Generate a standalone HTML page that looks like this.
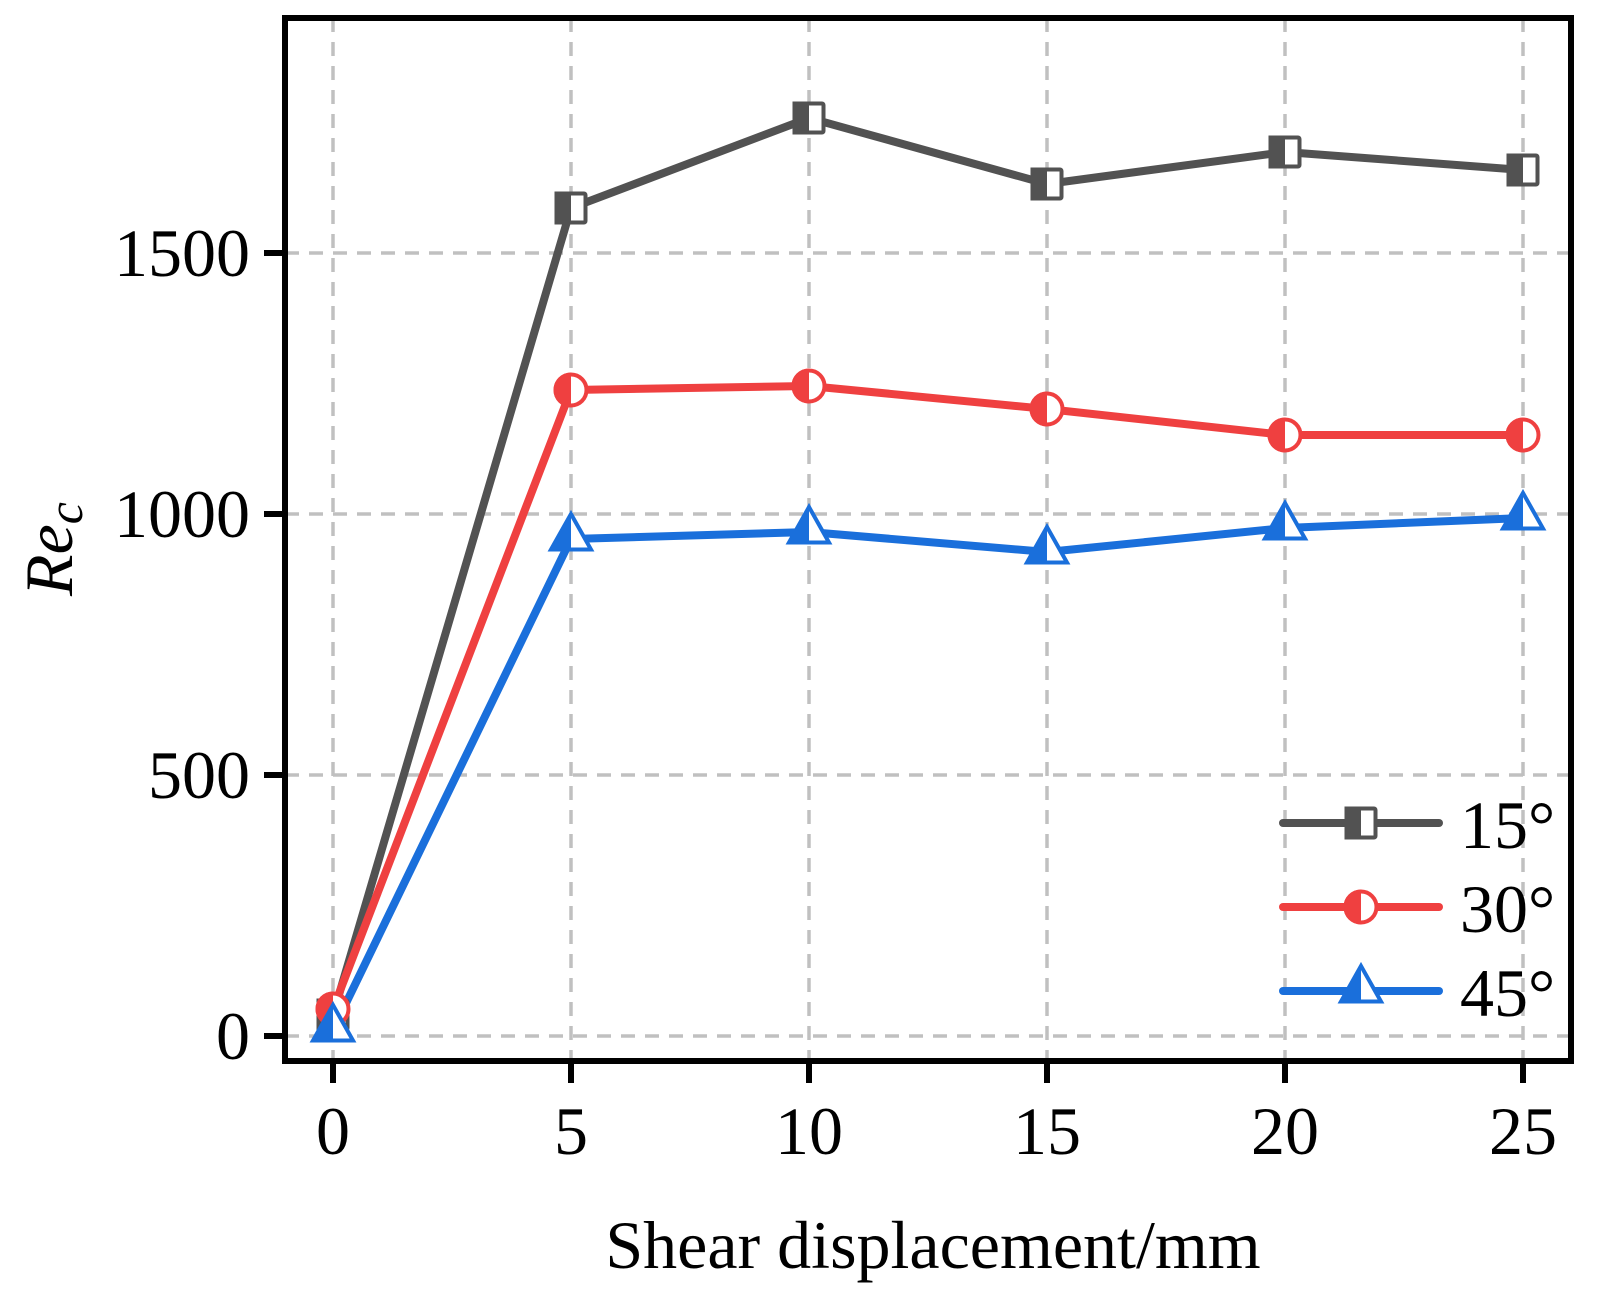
<!DOCTYPE html>
<html><head><meta charset="utf-8"><style>
html,body{margin:0;padding:0;background:#fff;}
svg{display:block;}
text{font-family:"Liberation Serif",serif;fill:#000;}
</style></head><body>
<svg width="1601" height="1299" viewBox="0 0 1601 1299" xmlns="http://www.w3.org/2000/svg">
<defs>
<g id="sq">
<rect x="-14.5" y="-14.5" width="29" height="29" fill="#fff" stroke="#525252" stroke-width="4" rx="1.5"/>
<rect x="-16.5" y="-16.5" width="16.5" height="33" fill="#525252"/>
</g>
<g id="ci">
<circle r="15.5" fill="#fff" stroke="#EF4040" stroke-width="4"/>
<path d="M0,-17.5 A17.5,17.5 0 0 0 0,17.5 Z" fill="#EF4040"/>
</g>
<g id="tr">
<polygon points="0,-23 20,12.5 -20,12.5" fill="#fff" stroke="#1A6FDB" stroke-width="4" stroke-linejoin="miter"/>
<polygon points="0,-25.5 0,14.5 -22.5,14.5" fill="#1A6FDB"/>
</g>
</defs>
<g stroke="#c0c0c0" stroke-width="3.5" stroke-dasharray="14,10" fill="none">
<line x1="333" y1="18" x2="333" y2="1061"/>
<line x1="571" y1="18" x2="571" y2="1061"/>
<line x1="809" y1="18" x2="809" y2="1061"/>
<line x1="1047" y1="18" x2="1047" y2="1061"/>
<line x1="1285" y1="18" x2="1285" y2="1061"/>
<line x1="1523" y1="18" x2="1523" y2="1061"/>
<line x1="285" y1="1036" x2="1571" y2="1036"/>
<line x1="285" y1="775" x2="1571" y2="775"/>
<line x1="285" y1="514" x2="1571" y2="514"/>
<line x1="285" y1="253" x2="1571" y2="253"/>
</g>
<g fill="none" stroke-width="8" stroke-linejoin="round" stroke-linecap="round">
<polyline stroke="#525252" points="333,1015 571,208 809,118 1047,184 1285,152 1523,170"/>
<polyline stroke="#EF4040" points="333,1009 571,390 809,386 1047,409 1285,435 1523,435"/>
<polyline stroke="#1A6FDB" points="333,1030 571,539 809,532 1047,552 1285,528 1523,518"/>
</g>
<use href="#sq" x="333" y="1015"/>
<use href="#sq" x="571" y="208"/>
<use href="#sq" x="809" y="118"/>
<use href="#sq" x="1047" y="184"/>
<use href="#sq" x="1285" y="152"/>
<use href="#sq" x="1523" y="170"/>
<use href="#ci" x="333" y="1009"/>
<use href="#ci" x="571" y="390"/>
<use href="#ci" x="809" y="386"/>
<use href="#ci" x="1047" y="409"/>
<use href="#ci" x="1285" y="435"/>
<use href="#ci" x="1523" y="435"/>
<use href="#tr" x="333" y="1028"/>
<use href="#tr" x="571" y="537"/>
<use href="#tr" x="809" y="530"/>
<use href="#tr" x="1047" y="550"/>
<use href="#tr" x="1285" y="526"/>
<use href="#tr" x="1523" y="516"/>
<rect x="285" y="18" width="1286" height="1043" fill="none" stroke="#000" stroke-width="6"/>
<g stroke="#000" stroke-width="6">
<line x1="264" y1="1036" x2="285" y2="1036"/>
<line x1="264" y1="775" x2="285" y2="775"/>
<line x1="264" y1="514" x2="285" y2="514"/>
<line x1="264" y1="253" x2="285" y2="253"/>
<line x1="333" y1="1061" x2="333" y2="1083"/>
<line x1="571" y1="1061" x2="571" y2="1083"/>
<line x1="809" y1="1061" x2="809" y2="1083"/>
<line x1="1047" y1="1061" x2="1047" y2="1083"/>
<line x1="1285" y1="1061" x2="1285" y2="1083"/>
<line x1="1523" y1="1061" x2="1523" y2="1083"/>
</g>
<g font-size="68" text-anchor="end">
<text x="250" y="1059">0</text>
<text x="250" y="798">500</text>
<text x="250" y="537">1000</text>
<text x="250" y="276">1500</text>
</g>
<g font-size="68" text-anchor="middle">
<text x="333" y="1154">0</text>
<text x="571" y="1154">5</text>
<text x="809" y="1154">10</text>
<text x="1047" y="1154">15</text>
<text x="1285" y="1154">20</text>
<text x="1523" y="1154">25</text>
</g>
<text x="933" y="1268" font-size="68" text-anchor="middle">Shear displacement/mm</text>
<text transform="translate(72,549) rotate(-90)" font-size="68" font-style="italic" text-anchor="middle">Re<tspan font-size="50" dy="10">c</tspan></text>
<g stroke-width="8" stroke-linecap="round">
<line x1="1283" y1="823" x2="1439" y2="823" stroke="#525252"/>
<line x1="1283" y1="907" x2="1439" y2="907" stroke="#EF4040"/>
<line x1="1283" y1="991" x2="1439" y2="991" stroke="#1A6FDB"/>
</g>
<use href="#sq" x="1361" y="823"/>
<use href="#ci" x="1361" y="907"/>
<use href="#tr" x="1361" y="989"/>
<g font-size="68">
<text x="1460" y="848">15°</text>
<text x="1460" y="932">30°</text>
<text x="1460" y="1016">45°</text>
</g>
</svg>
</body></html>
